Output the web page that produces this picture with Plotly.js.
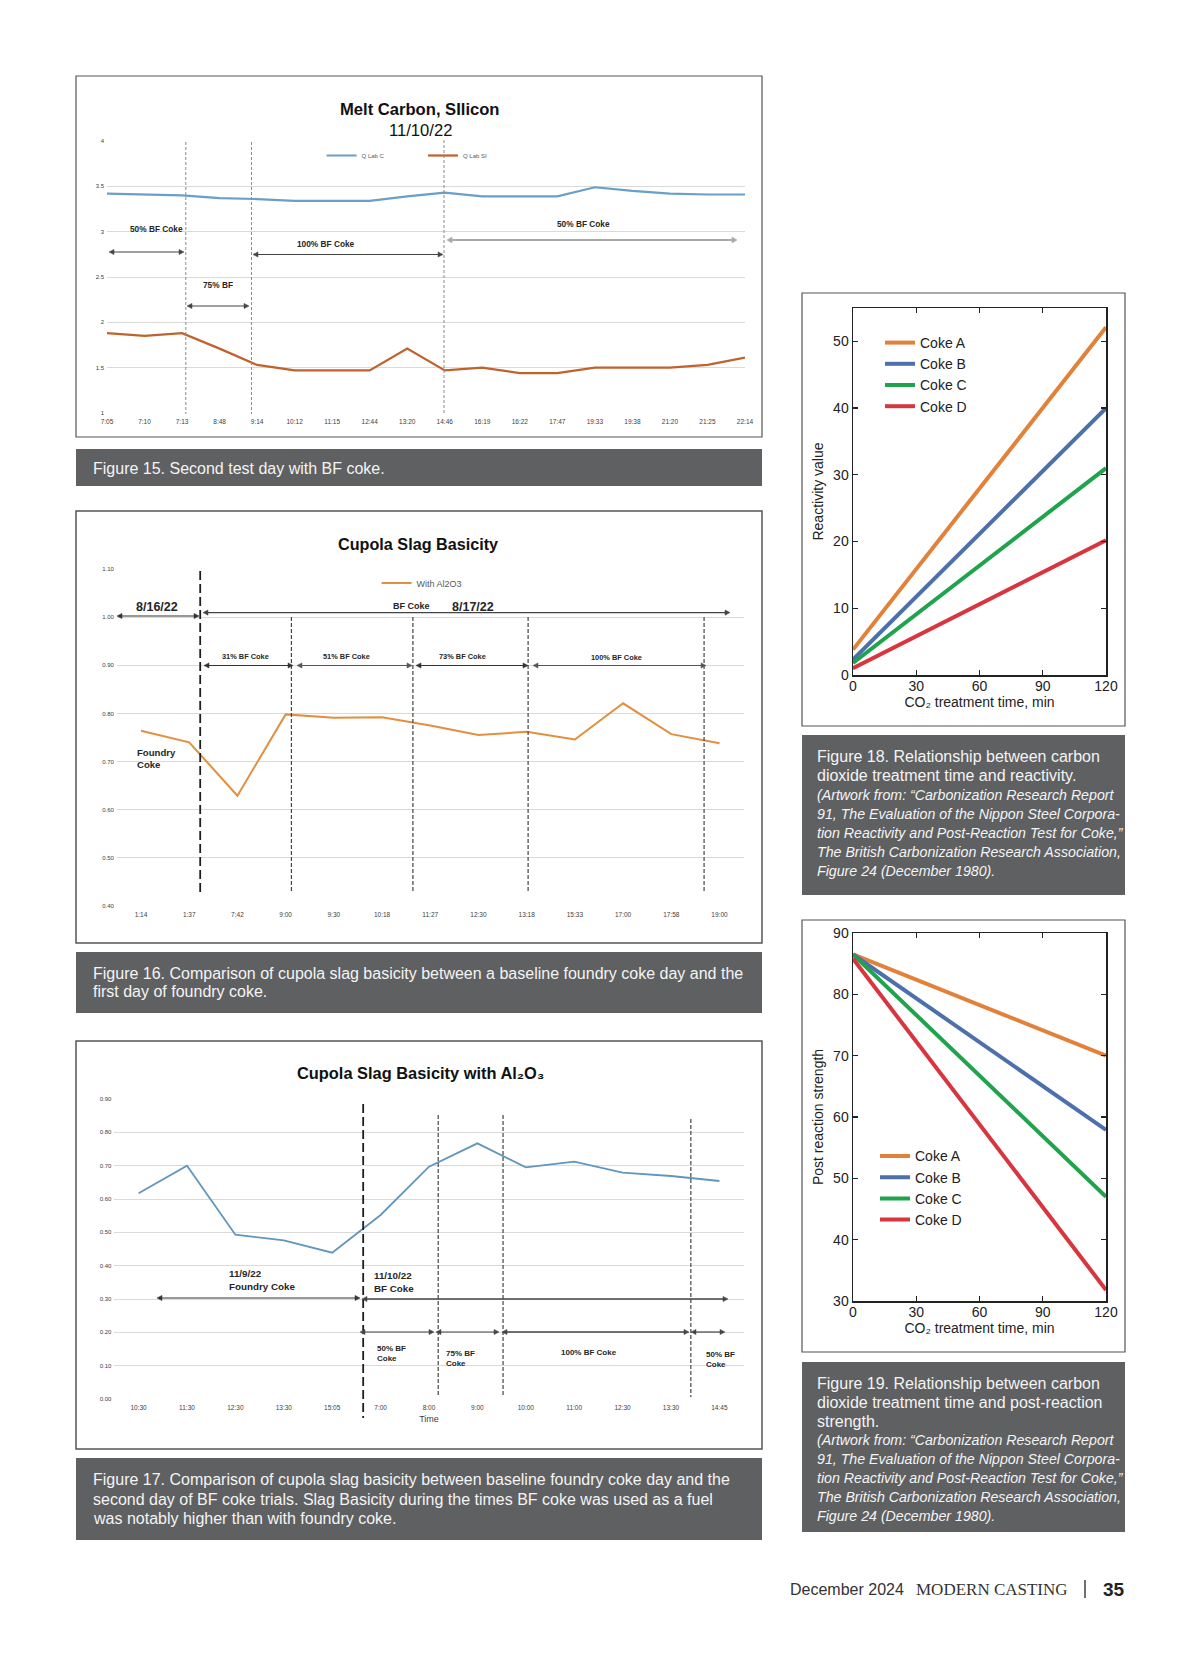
<!DOCTYPE html>
<html><head><meta charset="utf-8">
<script src="https://cdn.plot.ly/plotly-3.0.1.min.js"></script>
<style>html,body{margin:0;padding:0;background:#fff}#page{width:1200px;height:1657px}</style>
</head><body><div id="page"></div>
<script>
// ---------- DATA ----------
const fig15Times = ['7:05','7:10','7:13','8:48','9:14','10:12','11:15','12:44','13:20','14:46','16:19','16:22','17:47','19:33','19:38','21:20','21:25','22:14'];
const fig15LabC  = [3.42,3.41,3.40,3.37,3.36,3.34,3.34,3.34,3.39,3.43,3.39,3.39,3.39,3.49,3.45,3.42,3.41,3.41];
const fig15LabSi = [1.88,1.85,1.88,1.71,1.53,1.47,1.47,1.47,1.71,1.47,1.50,1.44,1.44,1.50,1.50,1.50,1.53,1.61];
const fig15Yticks = [1,1.5,2,2.5,3,3.5,4];

const fig16Times = ['1:14','1:37','7:42','9:00','9:30','10:18','11:27','12:30','13:18','15:33','17:00','17:58','19:00'];
const fig16Basicity = [0.764,0.740,0.629,0.798,0.791,0.792,0.775,0.755,0.762,0.746,0.821,0.757,0.738];

const fig17Times = ['10:30','11:30','12:30','13:30','15:05','7:00','8:00','9:00','10:00','11:00','12:30','13:30','14:45'];
const fig17Basicity = [0.617,0.700,0.493,0.476,0.439,0.552,0.697,0.767,0.695,0.712,0.679,0.669,0.654];

const cokeNames = ['Coke A','Coke B','Coke C','Coke D'];
const fig18Time = [0, 120];
const fig18CokeA = [3.8, 52.1];
const fig18CokeB = [2.3, 40.0];
const fig18CokeC = [1.8, 31.0];
const fig18CokeD = [1.0, 20.2];
const fig19Time = [0, 120];
const fig19CokeA = [86.5, 70.0];
const fig19CokeB = [86.5, 57.9];
const fig19CokeC = [86.5, 47.0];
const fig19CokeD = [85.8, 31.8];
const timeTicks = [0, 30, 60, 90, 120];

// ---------- HELPERS ----------
const W = 1200, H = 1657;
const px = v => v / W;
const py = v => 1 - v / H;
const idx = a => a.map((_, i) => i);
const SANS = 'Liberation Sans, Arial, Helvetica, sans-serif';
const SERIF = 'Liberation Serif, Times New Roman, serif';
const cokeColors = ['#e2823a', '#4d70ad', '#1fa34c', '#d8353e'];

function txt(x, y, text, size, o) {
  o = o || {};
  return {xref:'paper', yref:'paper', x:px(x), y:py(y), text:text, showarrow:false,
    xanchor:o.xa || 'center', yanchor:'middle', align:o.align || 'center',
    font:{family:o.fam || SANS, size:size, color:o.color || '#262626'}};
}
function rect(x0, y0, x1, y1, fill, lineColor, lw) {
  return {type:'rect', xref:'paper', yref:'paper', x0:px(x0), x1:px(x1), y0:py(y0), y1:py(y1),
    fillcolor:fill || 'rgba(0,0,0,0)', line:{color:lineColor || 'rgba(0,0,0,0)', width:lw || 0}, layer:'below'};
}
function vdash(xref, xv, ytop, ybot, color, w, dash) {
  return {type:'line', xref:xref, yref:'paper', x0:xv, x1:xv, y0:py(ytop), y1:py(ybot),
    line:{color:color, width:w, dash:dash}, layer:'above'};
}
// double-headed horizontal arrow built from shapes
function arrow(x1, x2, y, color, w, hl, hw) {
  hl = hl || 5; hw = hw || 2.6;
  const out = [];
  out.push({type:'line', xref:'paper', yref:'paper', x0:px(x1 + hl - 1), x1:px(x2 - hl + 1), y0:py(y), y1:py(y),
    line:{color:color, width:w}, layer:'above'});
  const tri = (tip, dir) => 'M' + px(tip) + ',' + py(y) + ' L' + px(tip + dir * hl) + ',' + py(y - hw) +
    ' L' + px(tip + dir * hl) + ',' + py(y + hw) + ' Z';
  out.push({type:'path', xref:'paper', yref:'paper', path:tri(x1, 1), fillcolor:color, line:{color:color, width:0.5}, layer:'above'});
  out.push({type:'path', xref:'paper', yref:'paper', path:tri(x2, -1), fillcolor:color, line:{color:color, width:0.5}, layer:'above'});
  return out;
}

// ---------- TRACES ----------
const traces = [
  {x:idx(fig15Times), y:fig15LabC, xaxis:'x', yaxis:'y', mode:'lines', name:'Q Lab C',
   line:{color:'#6a9fc9', width:2.2}, legend:'legend'},
  {x:idx(fig15Times), y:fig15LabSi, xaxis:'x', yaxis:'y', mode:'lines', name:'Q Lab SI',
   line:{color:'#c0622c', width:2.2}, legend:'legend2'},
  {x:idx(fig16Times), y:fig16Basicity, xaxis:'x2', yaxis:'y2', mode:'lines', name:'With Al2O3',
   line:{color:'#e2903f', width:2}, legend:'legend3'},
  {x:idx(fig17Times), y:fig17Basicity, xaxis:'x3', yaxis:'y3', mode:'lines', name:'Basicity',
   line:{color:'#6196bd', width:1.8}, showlegend:false}
];
[fig18CokeA, fig18CokeB, fig18CokeC, fig18CokeD].forEach((s, i) => traces.push(
  {x:fig18Time, y:s, xaxis:'x4', yaxis:'y4', mode:'lines', name:cokeNames[i],
   line:{color:cokeColors[i], width:4}, legend:'legend4'}));
[fig19CokeA, fig19CokeB, fig19CokeC, fig19CokeD].forEach((s, i) => traces.push(
  {x:fig19Time, y:s, xaxis:'x5', yaxis:'y5', mode:'lines', name:cokeNames[i],
   line:{color:cokeColors[i], width:4}, legend:'legend5'}));

// ---------- AXES ----------
function excelX(domL, domR, range, labels, anchor, fs) {
  return {domain:[px(domL), px(domR)], range:range, anchor:anchor, tickmode:'array',
    tickvals:idx(labels), ticktext:labels, showgrid:false, zeroline:false, showline:false,
    ticks:'', tickfont:{family:SANS, size:fs, color:'#404040'}, ticklabelstandoff:3, fixedrange:true};
}
function excelY(domB, domT, range, dtick, fmt, anchor, fs) {
  return {domain:[py(domB), py(domT)], range:range, anchor:anchor, dtick:dtick, tick0:0,
    tickformat:fmt, showgrid:true, gridcolor:'#dadada', gridwidth:1, zeroline:false,
    showline:false, ticks:'', tickfont:{family:SANS, size:fs, color:'#404040'}, ticklabelstandoff:2, fixedrange:true};
}
const sciAxis = {showline:true, linecolor:'#222', linewidth:1.5, mirror:'ticks', ticks:'inside',
  ticklen:5, tickwidth:1.2, tickcolor:'#222', showgrid:false, zeroline:false,
  tickfont:{family:SANS, size:14, color:'#222'}, fixedrange:true};
const co2Title = 'CO\u2082 treatment time, min';

const layout = {
  width:W, height:H, margin:{l:0, r:0, t:0, b:0}, paper_bgcolor:'#ffffff', plot_bgcolor:'rgba(0,0,0,0)',
  hovermode:false, showlegend:true,
  xaxis: excelX(107, 745, [0, 17], fig15Times, 'y', 6.5),
  yaxis: Object.assign(excelY(413, 141, [1, 4], 0.5, '', 'x', 6), {tickvals:fig15Yticks}),
  xaxis2: excelX(116.9, 743.6, [-0.5, 12.5], fig16Times, 'y2', 6.5),
  yaxis2: excelY(906, 569, [0.40, 1.10], 0.1, '.2f', 'x2', 6),
  xaxis3: Object.assign(excelX(114.4, 743.6, [-0.5, 12.5], fig17Times, 'y3', 6.5),
    {title:{text:'Time', font:{family:SANS, size:9, color:'#404040'}, standoff:6}}),
  yaxis3: excelY(1399, 1099, [0, 0.9], 0.1, '.2f', 'x3', 6),
  xaxis4: Object.assign({}, sciAxis, {domain:[px(853), px(1106)], range:[0, 120], tickvals:timeTicks, anchor:'y4',
    ticklabelstandoff:-2,
    title:{text:co2Title, font:{family:SANS, size:14, color:'#222'}, standoff:3}}),
  yaxis4: Object.assign({}, sciAxis, {domain:[py(675), py(308)], range:[0, 55], tickvals:[0,10,20,30,40,50], anchor:'x4',
    title:{text:'Reactivity value', font:{family:SANS, size:14, color:'#222'}, standoff:6}}),
  xaxis5: Object.assign({}, sciAxis, {domain:[px(853), px(1106)], range:[0, 120], tickvals:timeTicks, anchor:'y5',
    ticklabelstandoff:-2,
    title:{text:co2Title, font:{family:SANS, size:14, color:'#222'}, standoff:3}}),
  yaxis5: Object.assign({}, sciAxis, {domain:[py(1301), py(933)], range:[30, 90], tickvals:[30,40,50,60,70,80,90], anchor:'x5',
    title:{text:'Post reaction strength', font:{family:SANS, size:14, color:'#222'}, standoff:6}}),
  legend: {x:px(321.6), y:py(155.5), xanchor:'left', yanchor:'middle', bgcolor:'rgba(0,0,0,0)',
    font:{family:SANS, size:6, color:'#595959'}},
  legend2: {x:px(423), y:py(155.5), xanchor:'left', yanchor:'middle', bgcolor:'rgba(0,0,0,0)',
    font:{family:SANS, size:6, color:'#595959'}},
  legend3: {x:px(376.6), y:py(583), xanchor:'left', yanchor:'middle', bgcolor:'rgba(0,0,0,0)',
    font:{family:SANS, size:9, color:'#595959'}},
  legend4: {x:px(880), y:py(327), xanchor:'left', yanchor:'top', bgcolor:'rgba(0,0,0,0)',
    font:{family:SANS, size:14, color:'#222'}},
  legend5: {x:px(875), y:py(1140.4), xanchor:'left', yanchor:'top', bgcolor:'rgba(0,0,0,0)',
    font:{family:SANS, size:14, color:'#222'}},
  shapes:[], annotations:[]
};

const S = layout.shapes, A = layout.annotations;
const addArrow = (...a) => arrow(...a).forEach(s => S.push(s));
const CAP = '#5f6062';
// frames and caption boxes
S.push(rect(76, 76, 762, 437, null, '#555', 1.2));
S.push(rect(76, 449, 762, 486, CAP));
S.push(rect(76, 511, 762, 943, null, '#555', 1.5));
S.push(rect(76, 952, 762, 1013, CAP));
S.push(rect(76, 1041, 762, 1449, null, '#555', 1.5));
S.push(rect(76, 1458, 762, 1540, CAP));
S.push(rect(802, 293, 1125, 726, null, '#555', 1.2));
S.push(rect(802, 735, 1125, 895, CAP));
S.push(rect(802, 920, 1125, 1352, null, '#555', 1.2));
S.push(rect(802, 1362, 1125, 1532, CAP));

// Fig 15 dashed separators
S.push(vdash('x', 2.1, 142, 414, '#8a8a8a', 1, '3px,2px'));
S.push(vdash('x', 3.85, 142, 414, '#8a8a8a', 1, '3px,2px'));
S.push(vdash('x', 8.98, 140, 414, '#8a8a8a', 1, '3px,2px'));
// Fig 16 dashed separators
S.push(vdash('x2', 1.228, 571, 892, '#1e1e1e', 1.8, '9px,4px'));
S.push(vdash('x2', 3.12, 617, 892, '#444', 1.2, '4px,2px'));
S.push(vdash('x2', 5.64, 617, 892, '#444', 1.2, '4px,2px'));
S.push(vdash('x2', 8.03, 617, 892, '#444', 1.2, '4px,2px'));
S.push(vdash('x2', 11.68, 617, 892, '#444', 1.2, '4px,2px'));
// Fig 17 dashed separators
S.push(vdash('x3', 4.64, 1104, 1418, '#1e1e1e', 1.8, '9px,4px'));
S.push(vdash('x3', 6.19, 1115, 1396, '#444', 1.2, '4px,2px'));
S.push(vdash('x3', 7.53, 1115, 1396, '#444', 1.2, '4px,2px'));
S.push(vdash('x3', 11.41, 1119, 1397, '#444', 1.2, '4px,2px'));

// ---------- Fig 15 texts ----------
A.push(txt(420, 109, '<b>Melt Carbon, SIlicon</b>', 16.6, {color:'#111'}));
A.push(txt(420, 130, '11/10/22', 16.6, {color:'#111'}));
A.push(txt(156, 229, '<b>50% BF Coke</b>', 8.3));
A.push(txt(326, 244, '<b>100% BF Coke</b>', 8.3));
A.push(txt(583, 224, '<b>50% BF Coke</b>', 8.3));
A.push(txt(218, 285, '<b>75% BF</b>', 8.3));
addArrow(109, 184, 252, '#454545', 1.2);
addArrow(187, 249, 306, '#454545', 1.2);
addArrow(253, 443, 254.5, '#454545', 1.2);
addArrow(447, 737, 240, '#a9a9a9', 2, 5, 3);

// ---------- Fig 16 texts ----------
A.push(txt(418, 544, '<b>Cupola Slag Basicity</b>', 16.2, {color:'#111'}));
A.push(txt(157, 607, '<b>8/16/22</b>', 12.5));
A.push(txt(411, 606, '<b>BF Coke</b>', 9));
A.push(txt(473, 607, '<b>8/17/22</b>', 12.5));
addArrow(117, 199, 616, '#333', 1.2);
addArrow(203, 730, 612.6, '#444', 1.4);
A.push(txt(245, 656, '<b>31% BF Coke</b>', 7.4));
A.push(txt(346, 656, '<b>51% BF Coke</b>', 7.4));
A.push(txt(463, 656, '<b>73% BF Coke</b>', 7.4));
A.push(txt(616, 657, '<b>100% BF Coke</b>', 7.4));
addArrow(204, 293, 665.5, '#333', 1.2);
addArrow(297, 412, 665.5, '#555', 1.2);
addArrow(416, 528, 665.5, '#333', 1.2);
addArrow(533, 706, 665.5, '#555', 1.2);
A.push(txt(135, 758, '<b>Foundry<br>Coke</b>', 9.6, {xa:'left', align:'left'}));

// ---------- Fig 17 texts ----------
A.push(txt(420, 1073, '<b>Cupola Slag Basicity with Al\u2082O\u2083</b>', 16.4, {color:'#111'}));
A.push(txt(227, 1280, '<b>11/9/22<br>Foundry Coke</b>', 9.8, {xa:'left', align:'left'}));
addArrow(157, 360, 1298, '#333', 1.2);
A.push(txt(372, 1282, '<b>11/10/22<br>BF Coke</b>', 9.8, {xa:'left', align:'left'}));
addArrow(362, 728, 1299, '#444', 1.4);
addArrow(360, 434, 1332, '#444', 1.2);
addArrow(436, 499, 1332, '#444', 1.2);
addArrow(502, 689, 1332, '#444', 1.4);
addArrow(691, 725, 1332, '#444', 1.2);
A.push(txt(375, 1353, '<b>50% BF<br>Coke</b>', 8, {xa:'left', align:'left'}));
A.push(txt(444, 1358, '<b>75% BF<br>Coke</b>', 8, {xa:'left', align:'left'}));
A.push(txt(589, 1352, '<b>100% BF Coke</b>', 8));
A.push(txt(704, 1359.5, '<b>50% BF<br>Coke</b>', 8, {xa:'left', align:'left'}));

// ---------- Captions ----------
const capFont = {fam:SANS, color:'#f4f4f4', xa:'left', align:'left'};
A.push(txt(91, 468, 'Figure 15. Second test day with BF coke.', 16, capFont));
A.push(txt(91, 973, 'Figure 16. Comparison of cupola slag basicity between a baseline foundry coke day and the', 16, capFont));
A.push(txt(91, 992, 'first day of foundry coke.', 16, capFont));
A.push(txt(91, 1479, 'Figure 17. Comparison of cupola slag basicity between baseline foundry coke day and the', 16, capFont));
A.push(txt(91, 1499, 'second day of BF coke trials. Slag Basicity during the times BF coke was used as a fuel', 16, capFont));
A.push(txt(91, 1518, 'was notably higher than with foundry coke.', 16, capFont));

const cap18Main = ['Figure 18. Relationship between carbon', 'dioxide treatment time and reactivity.'];
const credit = ['(Artwork from: \u201cCarbonization Research Report',
  '91, The Evaluation of the Nippon Steel Corpora-',
  'tion Reactivity and Post-Reaction Test for Coke,\u201d',
  'The British Carbonization Research Association,',
  'Figure 24 (December 1980).'];
const cap19Main = ['Figure 19. Relationship between carbon', 'dioxide treatment time and post-reaction', 'strength.'];
const lineStep = 19.05;
cap18Main.concat(credit).forEach((t, i) => {
  const it = i >= cap18Main.length;
  A.push(txt(815, 756.5 + i * lineStep, it ? '<i>' + t + '</i>' : t, it ? 14.2 : 16, capFont));
});
cap19Main.concat(credit).forEach((t, i) => {
  const it = i >= cap19Main.length;
  A.push(txt(815, 1383 + i * lineStep, it ? '<i>' + t + '</i>' : t, it ? 14.2 : 16, capFont));
});

// ---------- Footer ----------
A.push(txt(788, 1589, 'December 2024', 16, {fam:SANS, color:'#333', xa:'left'}));
A.push(txt(914, 1589, 'MODERN CASTING', 17, {fam:SERIF, color:'#333', xa:'left'}));
A.push(txt(1101, 1589, '<b>35</b>', 19, {fam:SANS, color:'#222', xa:'left'}));
S.push({type:'line', xref:'paper', yref:'paper', x0:px(1085), x1:px(1085), y0:py(1580), y1:py(1598),
  line:{color:'#333', width:1.4}});

Plotly.newPlot('page', traces, layout, {staticPlot:true, responsive:false});
</script>
</body></html>
